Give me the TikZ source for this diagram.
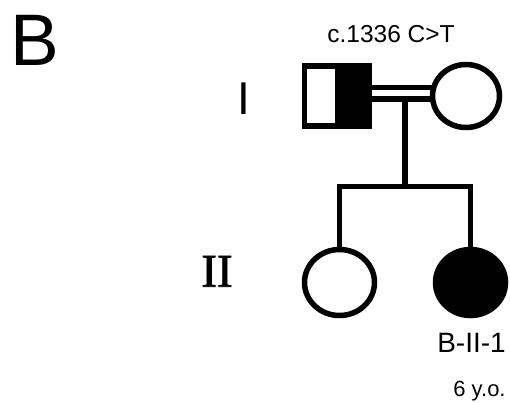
\documentclass[tikz,border=0pt]{standalone}
\usepackage{fontspec}
\setmainfont{Liberation Sans}
\newfontfamily\serifroman[FakeBold=1.5]{Liberation Serif}
\usetikzlibrary{shapes.geometric,backgrounds}
\tikzset{
  lw/.style={line width=5.5pt},
  person/.style={ellipse, draw, lw, fill=white, inner sep=0pt},
  lbl/.style={anchor=base, inner sep=0pt, text=black},
  rel/.style={lw, line join=miter, line cap=rect},
}
\begin{document}
\begin{tikzpicture}[x=1pt,y=-1pt]
\useasboundingbox (0,0) rectangle (510,402);
% people
\node[rectangle, draw, lw, minimum width=65pt, minimum height=60pt, inner sep=0pt] (f) at (337,96) {};
\fill ([xshift=-37pt]f.north east) rectangle (f.south east);
\node[rectangle, draw, lw, minimum width=65pt, minimum height=60pt, inner sep=0pt] (f2) at (337,96) {};
\node[person, minimum width=67pt, minimum height=63pt] (m) at (466,96) {};
\node[person, minimum width=70pt, minimum height=66pt] (c1) at (339.5,282.5) {};
\node[person, minimum width=70pt, minimum height=66pt, fill=black] (c2) at (470.5,282.5) {};
% connectors
\coordinate (mid) at (405,93);
\coordinate (sib) at (405,186.5);
\begin{scope}[on background layer]
\draw[lw, double=white, double distance=6pt] (f.east |- mid) -- (m.center |- mid);
\draw[rel] (405,99) -- (sib);
\draw[rel, line cap=butt] (c1.north) -- (c1.north |- sib) -- (c2.north |- sib) -- (c2.north);
\end{scope}
% labels
\node[lbl, font=\fontsize{73}{73}\selectfont] (lB) at (35,65) {B};
\node[lbl, font=\fontsize{46}{46}\selectfont] (lI) at (243.5,114.3) {I};
\node[lbl, font=\serifroman\fontsize{47}{47}\selectfont] (lII) at (217,286.7) {II};
\node[lbl, font=\fontsize{24.5}{24.5}\selectfont] (var) at (391,42) {c.1336 C>T};
\node[lbl, font=\fontsize{28}{28}\selectfont] (id) at (471.5,352) {B-II-1};
\node[lbl, font=\fontsize{22}{22}\selectfont] (age) at (479.5,396.7) {6 y.o.};
\end{tikzpicture}
\end{document}
